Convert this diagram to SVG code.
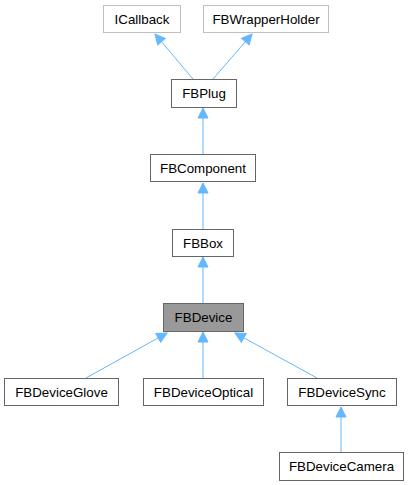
<svg xmlns="http://www.w3.org/2000/svg" width="410" height="485" viewBox="0 0 410 485">
<defs>
<style>
.n{fill:#fff;stroke:#666;stroke-width:1}
.l{fill:#fff;stroke:#bfbfbf;stroke-width:1}
.s{fill:#999;stroke:#666;stroke-width:1}
text{font-family:"Liberation Sans",Arial,sans-serif;font-size:13.33px;fill:#000;text-anchor:middle}
.e{stroke:#63b8ff;stroke-width:1;fill:none;marker-end:url(#a)}
</style>
<marker id="a" markerUnits="userSpaceOnUse" markerWidth="12" markerHeight="12" viewBox="0 0 12 12" refX="11" refY="6" orient="auto">
<path d="M1,1 L11,6 L1,11 Z" fill="#63b8ff" stroke="#63b8ff"/>
</marker>
</defs>
<rect width="410" height="485" fill="#fff"/>
<g id="edges">
<path class="e" d="M193,79 L155,34"/>
<path class="e" d="M213,79 L252,34"/>
<path class="e" d="M203,154 L203,108"/>
<path class="e" d="M203,229 L203,183"/>
<path class="e" d="M203,303 L203,257"/>
<path class="e" d="M86,378 L167,333"/>
<path class="e" d="M203,378 L203,332"/>
<path class="e" d="M317,378 L235,333"/>
<path class="e" d="M341,452 L341,407"/>
</g>
<g id="ICallback"><rect class="l" x="103.5" y="5.5" width="77" height="27"/><text x="142" y="23.5">ICallback</text></g>
<g id="FBWrapperHolder"><rect class="l" x="203.5" y="5.5" width="125" height="27"/><text x="266" y="23.5">FBWrapperHolder</text></g>
<g id="FBPlug"><rect class="n" x="171.5" y="79.5" width="65" height="28"/><text x="204" y="98">FBPlug</text></g>
<g id="FBComponent"><rect class="n" x="150.5" y="154.5" width="105" height="27"/><text x="203" y="172.5">FBComponent</text></g>
<g id="FBBox"><rect class="n" x="172.5" y="229.5" width="61" height="27"/><text x="203" y="247.5">FBBox</text></g>
<g id="FBDevice"><rect class="s" x="163.5" y="303.5" width="80" height="28"/><text x="203.5" y="322">FBDevice</text></g>
<g id="FBDeviceGlove"><rect class="n" x="4.5" y="378.5" width="114" height="27"/><text x="61.5" y="396.5">FBDeviceGlove</text></g>
<g id="FBDeviceOptical"><rect class="n" x="143.5" y="378.5" width="120" height="27"/><text x="203.5" y="396.5">FBDeviceOptical</text></g>
<g id="FBDeviceSync"><rect class="n" x="287.5" y="378.5" width="109" height="27"/><text x="342" y="396.5">FBDeviceSync</text></g>
<g id="FBDeviceCamera"><rect class="n" x="279.5" y="452.5" width="124" height="28"/><text x="341.5" y="471">FBDeviceCamera</text></g>
</svg>
